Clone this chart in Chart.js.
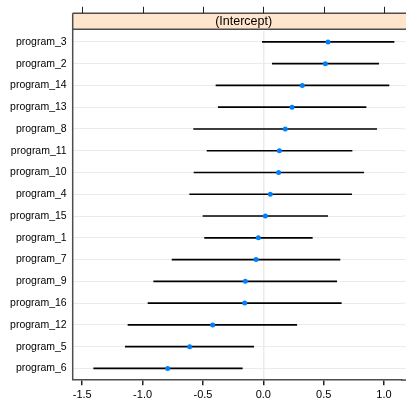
<!DOCTYPE html>
<html>
<head>
<meta charset="utf-8">
<script src="https://cdn.jsdelivr.net/npm/chart.js@4"></script>
<style>
html,body{margin:0;padding:0;background:#fff;}
#wrap{width:406px;height:405px;position:relative;}
</style>
</head>
<body>
<div id="wrap"><canvas id="c" width="406" height="405"></canvas></div>
<script>
// Data (top to bottom)
const programs = ["program_3","program_2","program_14","program_13","program_8","program_11","program_10","program_4","program_15","program_1","program_7","program_9","program_16","program_12","program_5","program_6"];
const estimates = [0.536,0.514,0.323,0.238,0.182,0.133,0.127,0.058,0.017,-0.041,-0.060,-0.149,-0.154,-0.419,-0.610,-0.792];
const lower = [-0.008,0.075,-0.392,-0.373,-0.577,-0.466,-0.574,-0.610,-0.500,-0.486,-0.756,-0.908,-0.955,-1.121,-1.143,-1.405];
const upper = [1.083,0.956,1.041,0.851,0.939,0.735,0.832,0.732,0.533,0.406,0.635,0.608,0.646,0.277,-0.080,-0.174];
const xTickValues = [-1.5,-1.0,-0.5,0.0,0.5,1.0];
const stripLabel = "(Intercept)";

const FONT = "'Liberation Sans', Arial, Helvetica, sans-serif";
const FRAME = '#4d4d4d';
const STRIP_TOP = 13.3, STRIP_BOT = 29.3;

const stripPlugin = {
  id: 'strip',
  beforeDatasetsDraw(chart) {
    // extend horizontal grid lines to the canvas edge (panel continues past it)
    const ctx = chart.ctx, a = chart.chartArea, ys = chart.scales.y;
    ctx.save();
    ctx.strokeStyle = '#ebebeb';
    ctx.lineWidth = 1;
    ctx.beginPath();
    ys.ticks.forEach((t, i) => {
      const py = ys.getPixelForTick(i);
      ctx.moveTo(a.right, py); ctx.lineTo(chart.width, py);
    });
    ctx.stroke();
    ctx.restore();
  },
  afterDraw(chart) {
    const ctx = chart.ctx, a = chart.chartArea, xs = chart.scales.x;
    const W = chart.width + 2;
    ctx.save();
    ctx.strokeStyle = FRAME;
    ctx.lineWidth = 1.5;
    ctx.beginPath();
    ctx.moveTo(a.right - 1, a.bottom + 0.75); ctx.lineTo(W, a.bottom + 0.75);
    ctx.stroke();
    ctx.fillStyle = '#ffe5cc';
    ctx.fillRect(a.left, STRIP_TOP, W - a.left, STRIP_BOT - STRIP_TOP);
    ctx.beginPath();
    ctx.moveTo(a.left, STRIP_TOP); ctx.lineTo(W, STRIP_TOP);
    ctx.moveTo(a.left, STRIP_BOT); ctx.lineTo(W, STRIP_BOT);
    ctx.moveTo(a.left, STRIP_TOP); ctx.lineTo(a.left, a.bottom);
    ctx.stroke();
    ctx.fillStyle = '#000';
    ctx.font = "12.5px " + FONT;
    ctx.textAlign = 'center';
    ctx.textBaseline = 'middle';
    ctx.fillText(stripLabel, xs.getPixelForValue(-0.163), (STRIP_TOP + STRIP_BOT) / 2 + 0.5);
    ctx.lineWidth = 1;
    ctx.strokeStyle = '#222';
    ctx.beginPath();
    xs.ticks.forEach(t => {
      const px = Math.round(xs.getPixelForValue(t.value)) + 0.5;
      ctx.moveTo(px, STRIP_TOP); ctx.lineTo(px, STRIP_TOP - 6.5);
    });
    ctx.stroke();
    ctx.restore();
  }
};

new Chart(document.getElementById('c'), {
  type: 'bar',
  data: {
    labels: programs,
    datasets: [
      {
        type: 'scatter',
        data: programs.map((p, i) => ({x: estimates[i], y: p})),
        backgroundColor: '#0080ff',
        borderColor: '#0080ff',
        pointRadius: 2.5,
        pointBorderWidth: 0,
        order: 0
      },
      {
        type: 'bar',
        data: programs.map((p, i) => [lower[i], upper[i]]),
        backgroundColor: '#000',
        borderWidth: 0,
        barThickness: 1,
        order: 1
      }
    ]
  },
  options: {
    indexAxis: 'y',
    responsive: false,
    animation: false,
    layout: {padding: {top: 31, left: 0, right: 0, bottom: 0}},
    plugins: {legend: {display: false}, tooltip: {enabled: false}},
    scales: {
      x: {
        type: 'linear',
        position: 'bottom',
        min: -1.579,
        max: 1.149,
        afterBuildTicks: s => { s.ticks = xTickValues.map(v => ({value: v})); },
        afterFit: s => { s.height = 25.7; },
        grid: {
          color: c => (c.tick && c.tick.value === 0) ? '#ebebeb' : 'rgba(0,0,0,0)',
          lineWidth: 1.5,
          tickColor: '#222',
          tickLength: 6,
          drawTicks: true
        },
        border: {display: true, color: FRAME, width: 1.5},
        ticks: {
          color: '#000',
          font: {family: FONT, size: 11},
          padding: 3,
          maxRotation: 0,
          callback: v => v.toFixed(1)
        }
      },
      y: {
        type: 'category',
        labels: programs,
        offset: true,
        afterFit: s => { s.width = 72.7; },
        grid: {offset: false, color: '#ebebeb', lineWidth: 1, drawTicks: false},
        border: {display: false},
        ticks: {
          color: '#000',
          font: {family: FONT, size: 10.5},
          padding: 6,
          autoSkip: false
        }
      }
    }
  },
  plugins: [stripPlugin]
});
</script>
</body>
</html>
